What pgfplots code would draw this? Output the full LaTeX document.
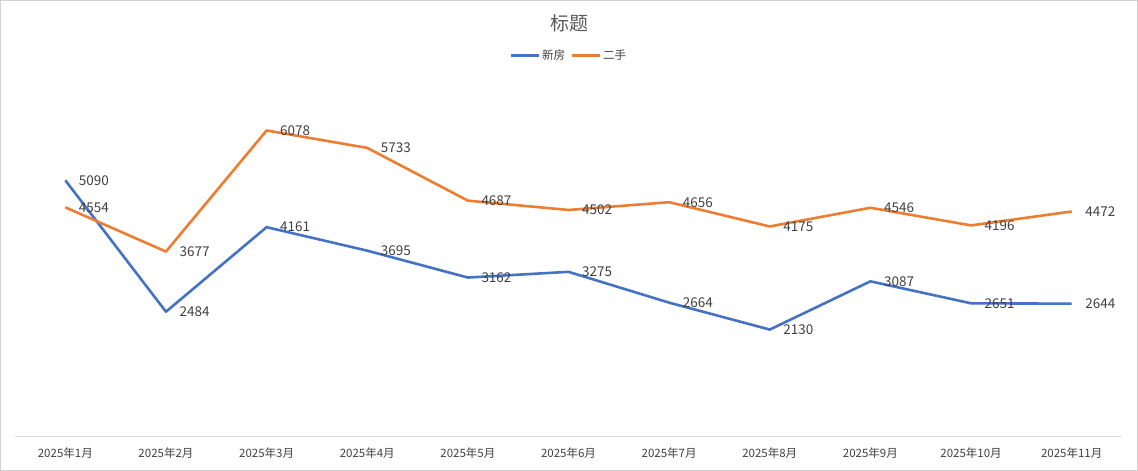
\documentclass[border=0pt]{standalone}
\usepackage{pgfplots}
\pgfplotsset{compat=1.18}
\usepackage{fontspec}
\setmainfont{Noto Sans CJK SC}
\definecolor{cblue}{HTML}{4472C4}
\definecolor{corange}{HTML}{ED7D31}
\definecolor{ctext}{HTML}{595959}
\definecolor{clabel}{HTML}{404040}
\definecolor{caxis}{HTML}{D9D9D9}
\definecolor{cframe}{HTML}{D0D0D0}
\begin{document}
\begin{tikzpicture}
\draw[cframe, line width=1pt] (0.5pt,0.5pt) rectangle (1137.5pt,470.5pt);
\node[text=ctext, font=\fontsize{19}{22}\selectfont] at (569pt,448pt) {标题};
\begin{axis}[
  at={(15pt,34pt)}, anchor=south west,
  scale only axis, width=1107pt, height=353pt,
  xmin=-0.5, xmax=10.5, ymin=0, ymax=7000,
  axis x line*=bottom, axis y line=none,
  x axis line style={caxis, line width=1pt, -},
  xtick={0,...,10}, major tick length=0pt,
  xticklabels={2025年1月,2025年2月,2025年3月,2025年4月,2025年5月,2025年6月,2025年7月,2025年8月,2025年9月,2025年10月,2025年11月},
  xticklabel style={text=clabel, font=\fontsize{11.5}{13}\selectfont, yshift=-7pt},
  clip=false,
  /pgf/number format/.cd, 1000 sep={}, assume math mode=true, /pgfplots/.cd,
  nodes near coords,
  nodes near coords style={anchor=west, xshift=9pt, text=clabel, font=\fontsize{13.5}{16}\selectfont},
  legend columns=2,
  legend style={at={(0.5,1.082)}, anchor=center, draw=none, fill=none,
    font=\fontsize{11.5}{14}\selectfont, text=clabel,
    /tikz/every even column/.append style={column sep=3pt}},
  legend image code/.code={\draw[#1, line width=3pt] (0pt,0pt) -- (28pt,0pt);},
]
\addplot[cblue, line width=2.6pt, line join=round] coordinates {
(0,5090) (1,2484) (2,4161) (3,3695) (4,3162) (5,3275) (6,2664) (7,2130) (8,3087) (9,2651) (10,2644)};
\addlegendentry{新房}
\addplot[corange, line width=2.6pt, line join=round] coordinates {
(0,4554) (1,3677) (2,6078) (3,5733) (4,4687) (5,4502) (6,4656) (7,4175) (8,4546) (9,4196) (10,4472)};
\addlegendentry{二手}
\end{axis}
\end{tikzpicture}
\end{document}
